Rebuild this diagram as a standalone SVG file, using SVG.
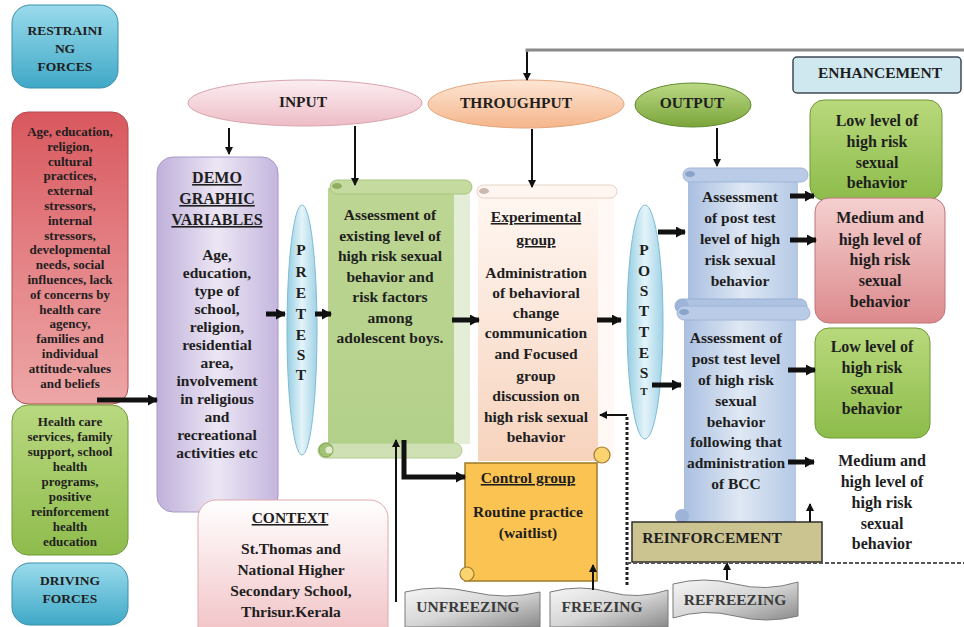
<svg xmlns="http://www.w3.org/2000/svg" width="964" height="627" viewBox="0 0 964 627" font-family="'Liberation Serif', 'DejaVu Serif', serif">
<defs>
<style>
text{font-family:'Liberation Serif','DejaVu Serif',serif}
.t{font-weight:bold;fill:#1e1e1e;text-anchor:middle}
.f12{font-size:13px}
.f13{font-size:13.5px}
.f14{font-size:15.5px}
.f16{font-size:16px}
.u{text-decoration:underline}
.ban{font-weight:bold;font-size:15.5px;fill:#3a3a3a;text-anchor:middle}
.thick{stroke:#111;stroke-width:5;fill:none}
.thin{stroke:#111;stroke-width:2;fill:none}
</style>
<marker id="ah" markerUnits="userSpaceOnUse" markerWidth="10" markerHeight="11" refX="9" refY="5.5" orient="auto"><path d="M0,0 L10,5.5 L0,11 Z" fill="#111"/></marker>
<marker id="at" markerUnits="userSpaceOnUse" markerWidth="8" markerHeight="8" refX="7" refY="4" orient="auto"><path d="M0,0 L8,4 L0,8 Z" fill="#111"/></marker>
<linearGradient id="gBlue" x1="0" y1="0" x2="0" y2="1"><stop offset="0" stop-color="#9adbec"/><stop offset="1" stop-color="#3fa8c6"/></linearGradient>
<linearGradient id="gRed" x1="0" y1="0" x2="0" y2="1"><stop offset="0" stop-color="#d8585e"/><stop offset="0.5" stop-color="#e48286"/><stop offset="1" stop-color="#eda6a6"/></linearGradient>
<linearGradient id="gGreenL" x1="0" y1="0" x2="0" y2="1"><stop offset="0" stop-color="#b9d880"/><stop offset="1" stop-color="#8fbc4d"/></linearGradient>
<linearGradient id="gDemo" x1="0" y1="0" x2="1" y2="0"><stop offset="0" stop-color="#bfb0da"/><stop offset="0.5" stop-color="#ece6f4"/><stop offset="1" stop-color="#c4b6de"/></linearGradient>
<linearGradient id="gPre" x1="0" y1="0" x2="1" y2="0"><stop offset="0" stop-color="#94cde2"/><stop offset="0.5" stop-color="#e4f4f9"/><stop offset="1" stop-color="#9fd2e6"/></linearGradient>
<linearGradient id="gGreenS" x1="0" y1="0" x2="0" y2="1"><stop offset="0" stop-color="#bdd693"/><stop offset="1" stop-color="#b3d08a"/></linearGradient>
<linearGradient id="gPeach" x1="0" y1="0" x2="0" y2="1"><stop offset="0" stop-color="#fff7f2"/><stop offset="1" stop-color="#f7d3bd"/></linearGradient>
<linearGradient id="gCtx" x1="0" y1="0" x2="0" y2="1"><stop offset="0" stop-color="#ffffff"/><stop offset="1" stop-color="#f0bcc0"/></linearGradient>
<linearGradient id="gIn" x1="0" y1="0" x2="0" y2="1"><stop offset="0" stop-color="#fbeef1"/><stop offset="1" stop-color="#eebcc6"/></linearGradient>
<linearGradient id="gThr" x1="0" y1="0" x2="0" y2="1"><stop offset="0" stop-color="#fde6d5"/><stop offset="1" stop-color="#f5b58a"/></linearGradient>
<linearGradient id="gOut" x1="0" y1="0" x2="0" y2="1"><stop offset="0" stop-color="#bcd985"/><stop offset="1" stop-color="#7aa53a"/></linearGradient>
<linearGradient id="gBlueS" x1="0" y1="0" x2="1" y2="0"><stop offset="0" stop-color="#a9bfe0"/><stop offset="0.5" stop-color="#dfe8f4"/><stop offset="1" stop-color="#b4c8e5"/></linearGradient>
<linearGradient id="gGreenR" x1="0" y1="0" x2="0" y2="1"><stop offset="0" stop-color="#b9d97c"/><stop offset="1" stop-color="#8dbc4b"/></linearGradient>
<linearGradient id="gRedR" x1="0" y1="0" x2="0" y2="1"><stop offset="0" stop-color="#f5d0d0"/><stop offset="1" stop-color="#dc8a8c"/></linearGradient>
<linearGradient id="gBan" x1="0" y1="0" x2="1" y2="1"><stop offset="0" stop-color="#f6f6f6"/><stop offset="0.5" stop-color="#d6d6d6"/><stop offset="1" stop-color="#8a8a8a"/></linearGradient>
</defs>

<rect width="964" height="627" fill="#ffffff"/>

<g id="restraining-forces">
<rect x="12" y="5" width="106" height="83" rx="18" fill="url(#gBlue)" stroke="#3a8fab" stroke-width="1"/>
<text class="t f13"><tspan x="65" y="35">RESTRAINI</tspan><tspan x="65" y="53">NG</tspan><tspan x="65" y="71">FORCES</tspan></text>
</g>

<g id="restraining-factors">
<rect x="12" y="112" width="116" height="292" rx="16" fill="url(#gRed)" stroke="#b34a4e" stroke-width="1"/>
<text class="t f12"><tspan x="70" y="136">Age, education,</tspan><tspan x="70" y="150.8">religion,</tspan><tspan x="70" y="165.6">cultural</tspan><tspan x="70" y="180.4">practices,</tspan><tspan x="70" y="195.2">external</tspan><tspan x="70" y="210">stressors,</tspan><tspan x="70" y="224.8">internal</tspan><tspan x="70" y="239.6">stressors,</tspan><tspan x="70" y="254.4">developmental</tspan><tspan x="70" y="269.2">needs, social</tspan><tspan x="70" y="284">influences, lack</tspan><tspan x="70" y="298.8">of concerns by</tspan><tspan x="70" y="313.6">health care</tspan><tspan x="70" y="328.4">agency,</tspan><tspan x="70" y="343.2">families  and</tspan><tspan x="70" y="358">individual</tspan><tspan x="70" y="372.8">attitude-values</tspan><tspan x="70" y="387.6">and beliefs</tspan></text>
</g>

<g id="driving-factors">
<rect x="12" y="405" width="116" height="150" rx="16" fill="url(#gGreenL)" stroke="#6f9a38" stroke-width="1"/>
<text class="t f12"><tspan x="70" y="426">Health care</tspan><tspan x="70" y="441">services, family</tspan><tspan x="70" y="456">support, school</tspan><tspan x="70" y="471">health</tspan><tspan x="70" y="486">programs,</tspan><tspan x="70" y="501">positive</tspan><tspan x="70" y="516">reinforcement</tspan><tspan x="70" y="531">health</tspan><tspan x="70" y="546">education</tspan></text>
</g>

<g id="driving-forces">
<rect x="12" y="563" width="116" height="62" rx="18" fill="url(#gBlue)" stroke="#3a8fab" stroke-width="1"/>
<text class="t f13"><tspan x="70" y="585">DRIVING</tspan><tspan x="70" y="603">FORCES</tspan></text>
</g>

<g id="input">
<ellipse cx="305" cy="103" rx="117" ry="23" fill="url(#gIn)" stroke="#d9a3ad" stroke-width="1"/>
<text class="t f14" x="303" y="107">INPUT</text>
</g>

<g id="throughput">
<ellipse cx="526" cy="104" rx="98" ry="24" fill="url(#gThr)" stroke="#e3a57c" stroke-width="1"/>
<text class="t f14" x="516" y="108">THROUGHPUT</text>
</g>

<g id="output">
<ellipse cx="693" cy="105" rx="58" ry="22" fill="url(#gOut)" stroke="#5f8a2c" stroke-width="1"/>
<text class="t f14" x="692" y="108">OUTPUT</text>
</g>

<g id="enhancement">
<rect x="793" y="57" width="168" height="36" rx="4" fill="#cfe8f0" stroke="#3f4a55" stroke-width="1.5"/>
<text class="t f14" x="880" y="78">ENHANCEMENT</text>
</g>

<g id="demographic-variables">
<rect x="157" y="157" width="121" height="355" rx="16" fill="url(#gDemo)" stroke="#a899c8" stroke-width="1"/>
<text class="t f16 u"><tspan x="217" y="183">DEMO</tspan><tspan x="217" y="204">GRAPHIC</tspan><tspan x="217" y="225">VARIABLES</tspan></text>
<text class="t f14"><tspan x="217" y="260">Age,</tspan><tspan x="217" y="278">education,</tspan><tspan x="217" y="296">type of</tspan><tspan x="217" y="314">school,</tspan><tspan x="217" y="332">religion,</tspan><tspan x="217" y="350">residential</tspan><tspan x="217" y="368">area,</tspan><tspan x="217" y="386">involvement</tspan><tspan x="217" y="404">in religious</tspan><tspan x="217" y="422">and</tspan><tspan x="217" y="440">recreational</tspan><tspan x="217" y="458">activities etc</tspan></text>
</g>

<g id="pretest">
<ellipse cx="302" cy="330" rx="15" ry="125" fill="url(#gPre)" stroke="#7fbcd3" stroke-width="1"/>
<text class="t f14"><tspan x="301" y="255">P</tspan><tspan x="301" y="277">R</tspan><tspan x="301" y="298">E</tspan><tspan x="301" y="319">T</tspan><tspan x="301" y="340">E</tspan><tspan x="301" y="360">S</tspan><tspan x="301" y="380">T</tspan></text>
</g>

<g id="pretest-assessment">
<rect x="328" y="188" width="126" height="260" fill="url(#gGreenS)"/>
<rect x="454" y="192" width="16" height="252" fill="#e4edd6"/>
<rect x="330" y="180" width="142" height="14" rx="7" fill="#c4da9f" stroke="#a9c480" stroke-width="1"/>
<ellipse cx="337" cy="186" rx="5" ry="3" fill="#8fae62"/>
<rect x="318" y="443" width="144" height="15" rx="7.5" fill="#cfe0b4" stroke="#b2cb8d" stroke-width="1"/>
<circle cx="326" cy="450" r="7" fill="#a3c374" stroke="#7fa34e" stroke-width="1"/>
<circle cx="329" cy="450" r="3.5" fill="#e3edd3"/>
<text class="t f14"><tspan x="390" y="220">Assessment of</tspan><tspan x="390" y="241">existing level of</tspan><tspan x="390" y="261">high risk sexual</tspan><tspan x="390" y="282">behavior and</tspan><tspan x="390" y="302">risk factors</tspan><tspan x="390" y="323">among</tspan><tspan x="390" y="343">adolescent boys.</tspan></text>
</g>

<g id="experimental-group">
<rect x="478" y="193" width="120" height="268" fill="url(#gPeach)"/>
<rect x="598" y="196" width="16" height="262" fill="#fff8f4"/>
<rect x="477" y="185" width="140" height="13" rx="6.5" fill="#fff6f1" stroke="#e6d2c6" stroke-width="1"/>
<ellipse cx="484" cy="191" rx="5" ry="3" fill="#c8b8b0"/>
<text class="t f14 u"><tspan x="536" y="222">Experimental</tspan><tspan x="536" y="245">group</tspan></text>
<text class="t f14"><tspan x="536" y="278">Administration</tspan><tspan x="536" y="298">of behavioral</tspan><tspan x="536" y="318">change</tspan><tspan x="536" y="338">communication</tspan><tspan x="536" y="359">and Focused</tspan><tspan x="536" y="381">group</tspan><tspan x="536" y="401">discussion on</tspan><tspan x="536" y="422">high risk sexual</tspan><tspan x="536" y="442">behavior</tspan></text>
</g>

<g id="control-group">
<rect x="465" y="463" width="132" height="118" fill="#fbc452" stroke="#a07a2a" stroke-width="1.5"/>
<circle cx="602" cy="455" r="8" fill="#fbd470" stroke="#a07a2a" stroke-width="1.2"/>
<circle cx="467" cy="574" r="7" fill="#fbd470" stroke="#a07a2a" stroke-width="1.2"/>
<text class="t f14 u" x="528" y="483">Control group</text>
<text class="t f14"><tspan x="528" y="517">Routine practice</tspan><tspan x="528" y="538">(waitlist)</tspan></text>
</g>

<g id="context">
<rect x="198" y="500" width="190" height="150" rx="18" fill="url(#gCtx)" stroke="#e0a9ae" stroke-width="1"/>
<text class="t f14 u" x="290" y="523">CONTEXT</text>
<text class="t f14"><tspan x="291" y="554">St.Thomas and</tspan><tspan x="291" y="575">National Higher</tspan><tspan x="291" y="596">Secondary School,</tspan><tspan x="291" y="617">Thrisur.Kerala</tspan></text>
</g>

<g id="posttest">
<ellipse cx="645" cy="322" rx="18" ry="117" fill="url(#gPre)" stroke="#7fbcd3" stroke-width="1"/>
<text class="t f14"><tspan x="644" y="255">P</tspan><tspan x="644" y="276">O</tspan><tspan x="644" y="296">S</tspan><tspan x="644" y="316">T</tspan><tspan x="644" y="337">T</tspan><tspan x="644" y="358">E</tspan><tspan x="644" y="378">S</tspan><tspan x="644" y="395" font-size="11">T</tspan></text>
</g>

<g id="posttest-assessment">
<rect x="688" y="176" width="110" height="134" fill="url(#gBlueS)"/>
<rect x="683" y="168" width="125" height="14" rx="7" fill="#b9cbe6" stroke="#9fb5d8" stroke-width="1"/>
<ellipse cx="690" cy="174" rx="5" ry="3" fill="#8aa3c9"/>
<rect x="675" y="299" width="132" height="14" rx="7" fill="#aec2e2" stroke="#98afd4" stroke-width="1"/>
<circle cx="682" cy="306" r="7" fill="#9db4d8"/>
<text class="t f14"><tspan x="740" y="202">Assessment</tspan><tspan x="740" y="223">of post test</tspan><tspan x="740" y="244">level of high</tspan><tspan x="740" y="265">risk sexual</tspan><tspan x="740" y="286">behavior</tspan></text>
</g>

<g id="posttest-assessment-bcc">
<rect x="684" y="316" width="112" height="208" fill="url(#gBlueS)"/>
<rect x="677" y="306" width="133" height="14" rx="7" fill="#b9cbe6" stroke="#9fb5d8" stroke-width="1"/>
<ellipse cx="684" cy="312" rx="5" ry="3" fill="#8aa3c9"/>
<circle cx="682" cy="516" r="7" fill="#9db4d8"/>
<text class="t f14"><tspan x="736" y="343">Assessment of</tspan><tspan x="736" y="364">post test level</tspan><tspan x="736" y="385">of high risk</tspan><tspan x="736" y="406">sexual</tspan><tspan x="736" y="427">behavior</tspan><tspan x="736" y="447">following that</tspan><tspan x="736" y="468">administration</tspan><tspan x="736" y="489">of BCC</tspan></text>
</g>

<g id="low-level-1">
<rect x="810" y="100" width="132" height="100" rx="14" fill="url(#gGreenR)" stroke="#6f9a38" stroke-width="1"/>
<text class="t f16"><tspan x="877" y="126">Low level of</tspan><tspan x="877" y="147">high risk</tspan><tspan x="877" y="168">sexual</tspan><tspan x="877" y="188">behavior</tspan></text>
</g>

<g id="medium-high-1">
<rect x="815" y="198" width="130" height="125" rx="14" fill="url(#gRedR)" stroke="#c07478" stroke-width="1"/>
<text class="t f16"><tspan x="880" y="223">Medium and</tspan><tspan x="880" y="245">high level of</tspan><tspan x="880" y="265">high risk</tspan><tspan x="880" y="286">sexual</tspan><tspan x="880" y="307">behavior</tspan></text>
</g>

<g id="low-level-2">
<rect x="815" y="328" width="115" height="110" rx="14" fill="url(#gGreenR)" stroke="#6f9a38" stroke-width="1"/>
<text class="t f16"><tspan x="872" y="352">Low level of</tspan><tspan x="872" y="373">high risk</tspan><tspan x="872" y="394">sexual</tspan><tspan x="872" y="414">behavior</tspan></text>
</g>

<g id="medium-high-2">
<text class="t f16"><tspan x="882" y="466">Medium and</tspan><tspan x="882" y="487">high level of</tspan><tspan x="882" y="508">high risk</tspan><tspan x="882" y="529">sexual</tspan><tspan x="882" y="549">behavior</tspan></text>
</g>

<g id="reinforcement">
<rect x="632" y="522" width="190" height="40" fill="#cbc491" stroke="#2e2e2e" stroke-width="1.5"/>
<text class="t f14" x="712" y="543">REINFORCEMENT</text>
</g>

<g id="unfreezing">
<path d="M405,592 Q438,584 472,592 T540,592 L540,627 L405,627 Z" fill="url(#gBan)" stroke="#7a7a7a" stroke-width="1"/>
<text class="ban" x="468" y="612">UNFREEZING</text>
</g>

<g id="freezing">
<path d="M550,592 Q580,584 609,592 T668,590 L668,627 L550,627 Z" fill="url(#gBan)" stroke="#7a7a7a" stroke-width="1"/>
<text class="ban" x="602" y="612">FREEZING</text>
</g>

<g id="refreezing">
<path d="M673,584 Q704,576 735,584 T798,582 L798,616 Q766,624 735,616 T673,618 Z" fill="url(#gBan)" stroke="#7a7a7a" stroke-width="1"/>
<text class="ban" x="735" y="605">REFREEZING</text>
</g>

<g id="connectors">
<polyline points="964,50 527,50 527,52" fill="none" stroke="#8a8a8a" stroke-width="3"/>
<line class="thin" x1="527" y1="52" x2="527" y2="80" marker-end="url(#at)"/>
<line class="thin" x1="229" y1="128" x2="229" y2="154" marker-end="url(#at)"/>
<line class="thin" x1="355" y1="126" x2="355" y2="185" marker-end="url(#at)"/>
<line class="thin" x1="532" y1="129" x2="532" y2="187" marker-end="url(#at)"/>
<line class="thin" x1="717" y1="128" x2="717" y2="166" marker-end="url(#at)"/>
<line class="thick" x1="97" y1="400" x2="157" y2="400" stroke-width="4" marker-end="url(#ah)"/>
<line class="thick" x1="266" y1="314" x2="285" y2="314" marker-end="url(#ah)"/>
<line class="thick" x1="315" y1="314" x2="331" y2="314" marker-end="url(#ah)"/>
<line class="thick" x1="452" y1="320" x2="479" y2="320" marker-end="url(#ah)"/>
<line class="thick" x1="597" y1="320" x2="621" y2="320" marker-end="url(#ah)"/>
<line class="thick" x1="658" y1="232" x2="685" y2="232" marker-end="url(#ah)"/>
<line class="thick" x1="652" y1="385" x2="681" y2="385" marker-end="url(#ah)"/>
<line class="thick" x1="790" y1="196" x2="814" y2="196" marker-end="url(#ah)"/>
<line class="thick" x1="790" y1="240" x2="816" y2="240" marker-end="url(#ah)"/>
<line class="thick" x1="788" y1="370" x2="815" y2="370" marker-end="url(#ah)"/>
<line class="thick" x1="788" y1="462" x2="814" y2="462" marker-end="url(#ah)"/>
<polyline class="thick" points="404,440 404,477 465,477" stroke-width="4" marker-end="url(#ah)"/>
<line class="thin" x1="396" y1="602" x2="396" y2="440" marker-end="url(#at)"/>
<line class="thin" x1="593" y1="590" x2="593" y2="565" marker-end="url(#at)"/>
<line class="thin" x1="727" y1="580" x2="727" y2="563" marker-end="url(#at)"/>
<line class="thin" x1="810" y1="522" x2="810" y2="504" marker-end="url(#at)"/>
<polyline points="627,585 627,415" fill="none" stroke="#222" stroke-width="3" stroke-dasharray="3,2"/>
<line class="thin" x1="627" y1="415" x2="600" y2="415" marker-end="url(#at)"/>
<line x1="627" y1="563" x2="964" y2="563" stroke="#555" stroke-width="2" stroke-dasharray="4,2"/>
</g>
</svg>
